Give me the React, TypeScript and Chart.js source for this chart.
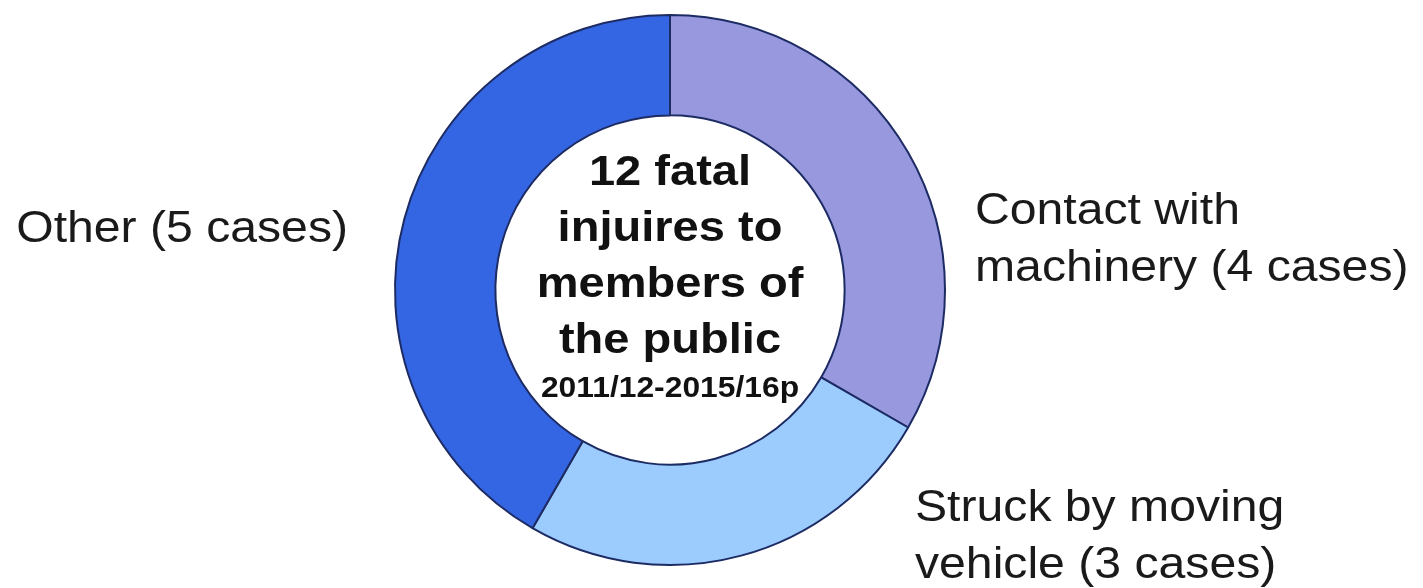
import React, { useEffect, useRef } from "react";
import { Chart, registerables } from "chart.js";

Chart.register(...registerables);

const categories = ["Contact with machinery", "Struck by moving vehicle", "Other"];
const cases = [4, 3, 5];
const sliceColors = ["#9898DF", "#9CCBFE", "#3466E4"];
const labelLines = [
  ["Contact with", "machinery (4 cases)"],
  ["Struck by moving", "vehicle (3 cases)"],
  ["Other (5 cases)"],
];
const centerLines = ["12 fatal", "injuires to", "members of", "the public"];
const centerSubtitle = "2011/12-2015/16p";

// label layout relative to the doughnut centre (dx, dy of first baseline, alignment)
const labelLayout = [
  { dx: 305, dy: -66, align: "left" },
  { dx: 245, dy: 231, align: "left" },
  { dx: -322, dy: -48, align: "right" },
];

const FONT = "'Liberation Sans', Arial, sans-serif";

function drawText(ctx: CanvasRenderingContext2D, text: string, x: number, y: number, align: CanvasTextAlign, sx: number) {
  ctx.save();
  ctx.translate(x, y);
  ctx.scale(sx, 1);
  ctx.textAlign = align;
  ctx.textBaseline = "alphabetic";
  ctx.fillText(text, 0, 0);
  ctx.restore();
}

const labelPlugin = {
  id: "labelPlugin",
  afterDraw(chart: any) {
    const ctx: CanvasRenderingContext2D = chart.ctx;
    const arc = chart.getDatasetMeta(0).data[0];
    if (!arc) return;
    const cx = arc.x;
    const cy = arc.y;
    ctx.save();
    ctx.fillStyle = "#1a1a1a";
    // outside labels
    ctx.font = `45px ${FONT}`;
    labelLines.forEach((lines, i) => {
      const l = labelLayout[i];
      lines.forEach((t, j) => {
        drawText(ctx, t, cx + l.dx, cy + l.dy + j * 57, l.align as CanvasTextAlign, 1.07);
      });
    });
    // centre text
    ctx.fillStyle = "#111";
    ctx.font = `bold 42px ${FONT}`;
    centerLines.forEach((t, j) => {
      drawText(ctx, t, cx, cy - 105 + j * 56, "center", 1.12);
    });
    ctx.font = `bold 30px ${FONT}`;
    drawText(ctx, centerSubtitle, cx, cy + 107, "center", 1.06);
    ctx.restore();
  },
};

export default function App() {
  const ref = useRef<HTMLCanvasElement | null>(null);
  useEffect(() => {
    if (!ref.current) return;
    const chart = new Chart(ref.current, {
      type: "doughnut",
      data: {
        labels: categories,
        datasets: [
          {
            data: cases,
            backgroundColor: sliceColors,
            borderColor: "#1d2b63",
            borderWidth: 2,
            hoverOffset: 0,
          },
        ],
      },
      options: {
        responsive: false,
        animation: false,
        events: [],
        cutout: "63.5%",
        rotation: 0,
        layout: { padding: { left: 394, right: 477, top: 14, bottom: 22 } },
        plugins: {
          legend: { display: false },
          tooltip: { enabled: false },
        },
      },
      plugins: [labelPlugin],
    });
    return () => chart.destroy();
  }, []);
  return (
    <div style={{ position: "absolute", left: 0, top: 0, width: 1423, height: 588, background: "#fff" }}>
      <canvas ref={ref} width={1423} height={588} />
    </div>
  );
}
